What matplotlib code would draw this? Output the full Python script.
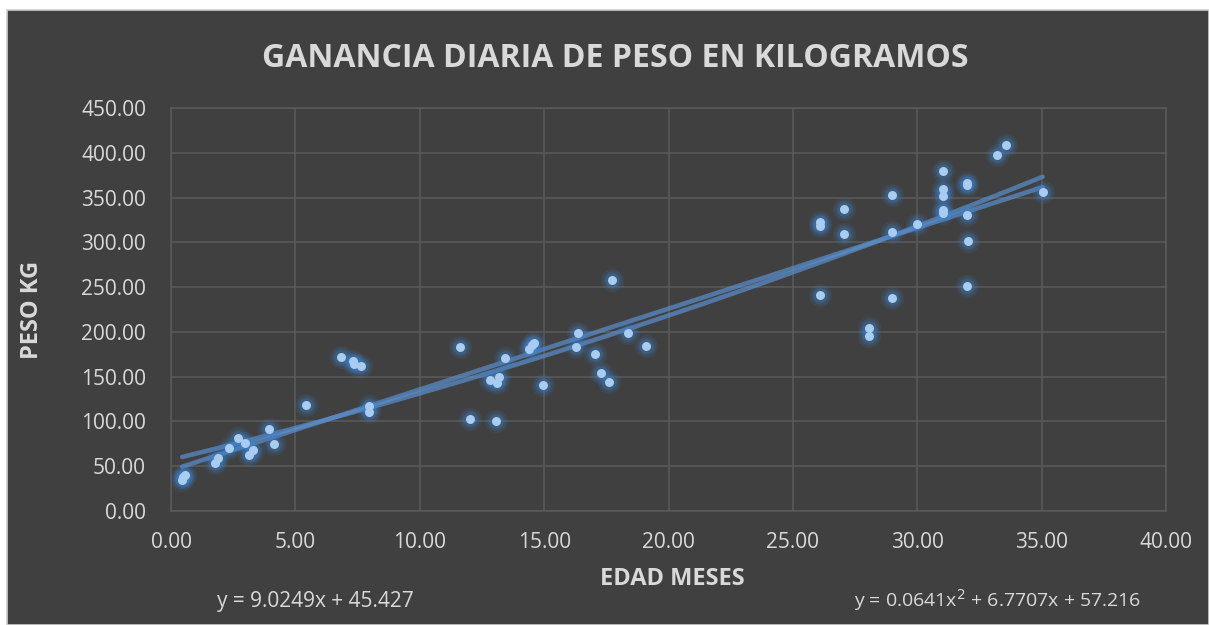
import numpy as np
from matplotlib import pyplot as plt
from matplotlib.patches import Rectangle

plt.rcParams['font.family'] = ['Open Sans', 'DejaVu Sans']

# datos
edad_meses = [0.45, 0.5, 0.55, 1.75, 1.88, 2.32, 2.68, 2.99, 3.15, 3.28, 3.95, 4.16,
              5.44, 6.84, 7.32, 7.35, 7.65, 7.95, 7.95,
              11.61, 12.0, 12.81, 13.1, 13.2, 13.05, 13.41, 14.41, 14.61, 14.5, 14.96,
              16.35, 16.29, 17.03, 17.28, 17.6, 17.73, 18.39, 19.08,
              26.08, 26.08, 26.08, 27.05, 27.05, 28.07, 28.07, 29.0, 29.0, 29.0, 30.0,
              31.03, 31.03, 31.03, 31.03, 31.03, 32.0, 32.0, 32.0, 32.04, 32.0,
              33.2, 33.55, 35.04]
peso_kg = [35, 38, 40, 53.5, 58.7, 70.6, 82, 75.4, 62.4, 68.4, 92, 74.7,
           118.5, 172.4, 167.6, 164, 162, 116.7, 110.7,
           183.6, 102.2, 146.4, 142.7, 150, 100, 171, 180.6, 187.3, 185, 140.8,
           198.8, 183.6, 175, 154.6, 143.8, 258.3, 198.8, 184.3,
           323, 318, 241, 337.5, 309.6, 204.4, 195.5, 352.3, 311.4, 237.5, 321,
           380, 360, 351.5, 335.6, 333, 366.4, 364, 330, 302, 251,
           398, 409, 356.7]

# lineas de tendencia (coeficientes de las ecuaciones)
lineal = [9.0249, 45.427]
poli = [0.0641, 6.7707, 57.216]

fondo = '#404040'
texto = '#d9d9d9'
rejilla = '#595959'

fig = plt.figure(figsize=(12.09, 6.25), dpi=100)
fig.patch.set_facecolor('white')
fig.patches.append(Rectangle((7 / 1209, 0), 1 - 7 / 1209, 1 - 10 / 625, transform=fig.transFigure,
                             facecolor=fondo, edgecolor='#d0d0d0', linewidth=1.2, zorder=-10))

ax = fig.add_axes([171 / 1209, 1 - 511 / 625, (1166 - 171) / 1209, (511 - 108) / 625])
ax.set_facecolor(fondo)

xs = np.linspace(min(edad_meses), max(edad_meses), 200)
ax.plot(xs, np.polyval(lineal, xs), color='#5b8fcc', alpha=0.7, lw=3.3, solid_capstyle='round', zorder=2)
ax.plot(xs, np.polyval(poli, xs), color='#5b8fcc', alpha=0.7, lw=3.3, solid_capstyle='round', zorder=2)

# halo de los puntos
for s, a in [(280, 0.1), (180, 0.15), (110, 0.25)]:
    ax.scatter(edad_meses, peso_kg, s=s, color='#3d85d6', alpha=a, lw=0, zorder=3)
ax.scatter(edad_meses, peso_kg, s=42, color='#a9cdf0', lw=0, zorder=4)

ax.set_xlim(0, 40)
ax.set_ylim(0, 450)
ax.set_xticks(np.arange(0, 41, 5))
ax.set_yticks(np.arange(0, 451, 50))
ax.set_xticklabels(['%.2f' % v for v in np.arange(0, 41, 5)])
ax.set_yticklabels(['%.2f' % v for v in np.arange(0, 451, 50)])
ax.tick_params(length=0, labelsize=15, colors=texto)
ax.tick_params(axis='x', pad=15)
ax.tick_params(axis='y', pad=18)
ax.grid(True, color=rejilla, lw=1.2, zorder=0)
ax.set_axisbelow(True)
for sp in ax.spines.values():
    sp.set_color(rejilla)
    sp.set_linewidth(1.2)

fig.text(0.509, 0.907, 'GANANCIA DIARIA DE PESO EN KILOGRAMOS', ha='center', va='center',
         fontsize=23, fontweight='bold', color=texto)
fig.text(672 / 1209, 1 - 579 / 625, 'EDAD MESES', ha='center', va='center',
         fontsize=17, fontweight='bold', color=texto)
fig.text(32 / 1209, 1 - 310 / 625, 'PESO KG', ha='center', va='center', rotation=90,
         fontsize=17, fontweight='bold', color=texto)
fig.text(315 / 1209, 1 - 601 / 625, 'y = 9.0249x + 45.427', ha='center', va='center',
         fontsize=15, color=texto)
fig.text(998 / 1209, 1 - 600 / 625, 'y = 0.0641x$^2$ + 6.7707x + 57.216', ha='center', va='center',
         fontsize=14, color=texto)

plt.savefig('out.png', dpi=100, facecolor=fig.get_facecolor())
